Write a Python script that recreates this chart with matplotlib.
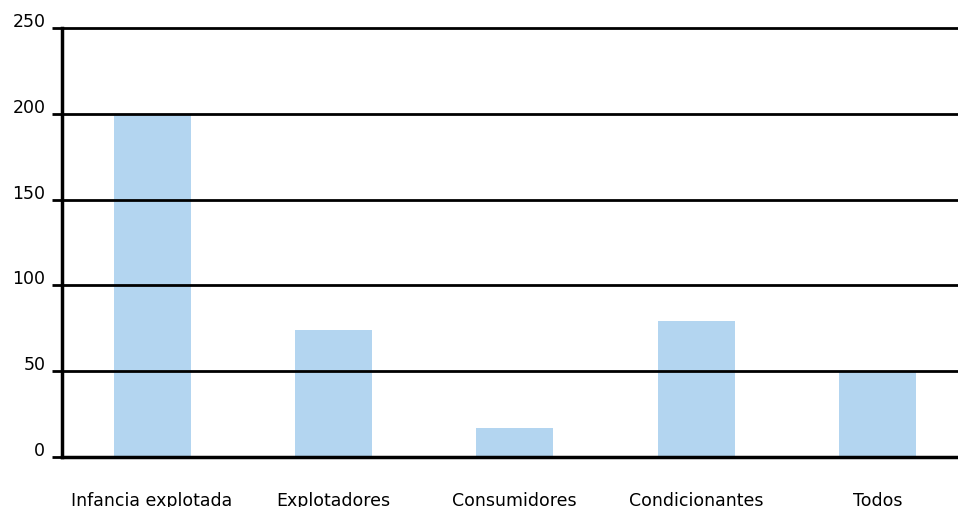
import matplotlib
matplotlib.use("Agg")
import matplotlib.pyplot as plt
import matplotlib.transforms as mtransforms

# data
categories = ["Infancia explotada", "Explotadores", "Consumidores", "Condicionantes", "Todos"]
values = [200, 74, 17, 79, 50]
yticks = [0, 50, 100, 150, 200, 250]

bar_color = "#b3d5f0"

fig = plt.figure(figsize=(9.58, 5.07), dpi=100)
ax = fig.add_axes([0.0647, 0.0986, 0.9353, 0.8462])

x = list(range(len(categories)))
ax.bar(x, values, width=0.424, color=bar_color, zorder=1)

# horizontal black grid lines
for t in yticks[1:]:
    ax.axhline(t, color="black", lw=2, zorder=2, clip_on=False)

ax.set_xlim(-0.497, 4.444)
ax.set_ylim(0, 250)

for side in ["top", "right"]:
    ax.spines[side].set_visible(False)
ax.spines["left"].set_linewidth(2.5)
ax.spines["bottom"].set_linewidth(2.5)
ax.spines["left"].set_zorder(3)
ax.spines["bottom"].set_zorder(3)

ax.set_yticks(yticks)
ax.set_yticklabels([str(t) for t in yticks])
ax.tick_params(axis="y", length=7, width=2, color="black", pad=5, labelsize=12.5)
# labels sit a bit above their line
offset = mtransforms.ScaledTranslation(0, 8 / 100, fig.dpi_scale_trans)
for lab in ax.get_yticklabels():
    lab.set_transform(lab.get_transform() + offset)

ax.set_xticks(x)
ax.set_xticklabels(categories)
ax.tick_params(axis="x", length=0, pad=25, labelsize=12.5)

fig.savefig("out.png", dpi=100)
